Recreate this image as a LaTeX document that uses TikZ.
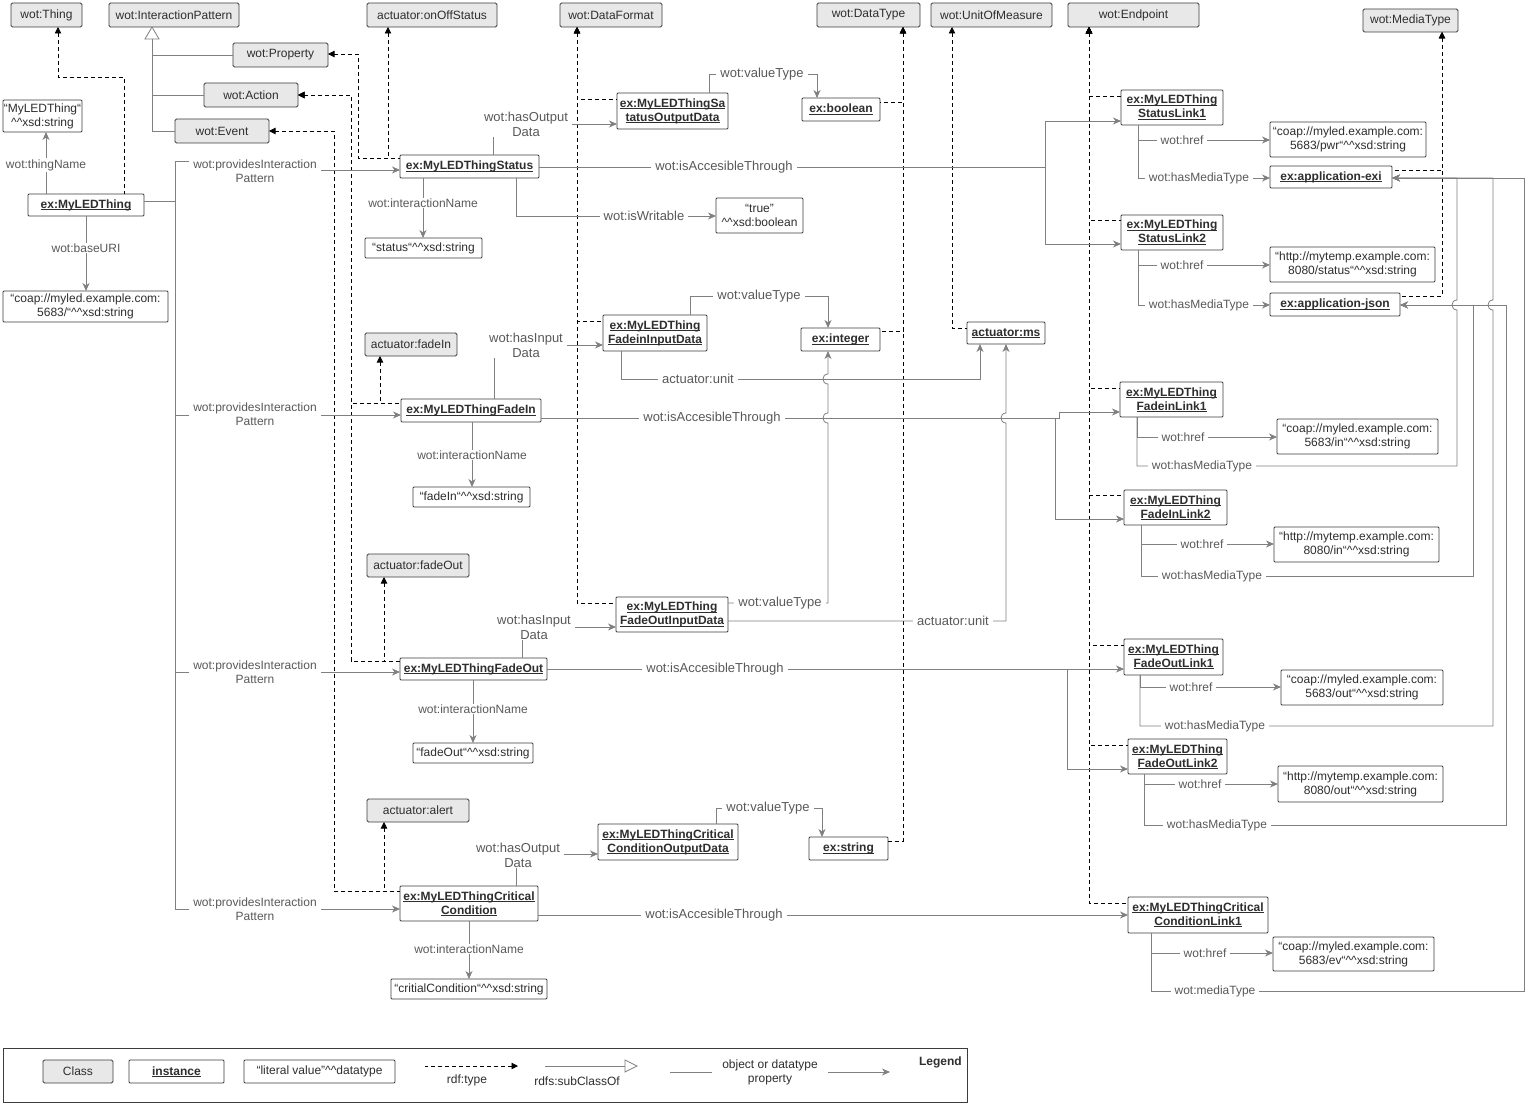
\documentclass[tikz,border=0pt]{standalone}
\usepackage{fontspec}
\setmainfont{Liberation Sans}
\usetikzlibrary{arrows.meta}

\definecolor{clsfill}{HTML}{E8E8E8}
\definecolor{boxline}{HTML}{3C3C3C}
\definecolor{edgecol}{HTML}{808080}
\definecolor{labcol}{HTML}{595959}
\definecolor{txtcol}{HTML}{2E2E2E}

% typed-literal marker and underlined instance names
\newcommand{\hats}{\textasciicircum\textasciicircum}
\newcommand{\undl}[1]{\setbox0=\hbox{#1}\rlap{\rule[-1.7pt]{\wd0}{0.75pt}}\box0}
% box from left/top/right/bottom (pixel-like units, y downwards)
\newcommand{\mkbox}[7]{\node[#1, minimum width={(#5)-(#3)}, minimum height={(#6)-(#4)}] (#2) at ({((#3)+(#5))/2},{((#4)+(#6))/2}) {#7};}

\tikzset{
  base/.style={rectangle, inner sep=0pt, outer sep=0pt, align=center,
    font=\fontsize{12}{14}\selectfont, text=txtcol, line width=0.8pt},
  cls/.style={base, draw=boxline, fill=clsfill, rounded corners=1.5pt},
  inst/.style={base, draw=boxline, fill=white, rounded corners=1pt,
    font=\fontsize{12}{14}\selectfont\bfseries},
  lit/.style={base, draw=boxline, fill=white, rounded corners=1pt},
  frame/.style={base, draw=boxline, fill=none},
  pr/.style={draw=edgecol, line width=0.8pt, -{Stealth[length=8pt,width=7pt,inset=2.5pt]}},
  pl/.style={draw=edgecol, line width=0.8pt},
  rt/.style={draw=black, line width=0.8pt, dash pattern=on 4pt off 3pt,
    {Triangle[length=6.5pt,width=6.5pt]}-},
  lb/.style={fill=white, inner xsep=4pt, inner ysep=1pt, align=center, text=labcol,
    font=\fontsize{12}{14}\selectfont},
  lbb/.style={lb, font=\fontsize{13}{15}\selectfont},
  lgt/.style={align=center, text=txtcol, inner sep=0pt, font=\fontsize{12}{14}\selectfont},
}

\begin{document}
\begin{tikzpicture}[x=1pt,y=-1pt]
\useasboundingbox (0,0) rectangle (1526,1105);
\fill[white] (0,0) rectangle (1526,1105);

% ---------------- classes ----------------
\mkbox{cls}{thing}{11}{3}{82}{27}{wot:Thing}
\mkbox{cls}{ipat}{109}{3}{239}{27}{wot:InteractionPattern}
\mkbox{cls}{prop}{233}{43}{328}{67}{wot:Property}
\mkbox{cls}{action}{204}{83}{298}{107}{wot:Action}
\mkbox{cls}{event}{175}{119}{269}{143}{wot:Event}
\mkbox{cls}{onoff}{367}{3}{497}{27}{actuator:onOffStatus}
\mkbox{cls}{dformat}{560}{3}{662}{27}{wot:DataFormat}
\mkbox{cls}{dtype}{817}{3}{920}{27}{wot:DataType}
\mkbox{cls}{uom}{931}{3}{1052}{27}{wot:UnitOfMeasure}
\mkbox{cls}{endpoint}{1068}{3}{1199}{27}{wot:Endpoint}
\mkbox{cls}{mtype}{1363}{9}{1458}{32}{wot:MediaType}
\mkbox{cls}{fadeincls}{365}{333}{457}{356}{actuator:fadeIn}
\mkbox{cls}{fadeoutcls}{367}{554}{469}{577}{actuator:fadeOut}
\mkbox{cls}{alert}{367}{799}{469}{822}{actuator:alert}

% ---------------- instances ----------------
\mkbox{inst}{thingi}{28}{194}{144}{216}{\undl{ex:MyLEDThing}}
\mkbox{inst}{status}{400}{155}{539}{178}{\undl{ex:MyLEDThingStatus}}
\mkbox{inst}{sodata}{617}{93}{728}{129}{\undl{ex:MyLEDThingSa}\\\undl{tatusOutputData}}
\mkbox{inst}{bool}{802}{98}{880}{121}{\undl{ex:boolean}}
\mkbox{inst}{fadein}{401}{399}{541}{422}{\undl{ex:MyLEDThingFadeIn}}
\mkbox{inst}{fidata}{603}{315}{707}{351}{\undl{ex:MyLEDThing}\\\undl{FadeinInputData}}
\mkbox{inst}{integer}{801}{328}{880}{351}{\undl{ex:integer}}
\mkbox{inst}{ms}{967}{322}{1045}{344}{\undl{actuator:ms}}
\mkbox{inst}{fadeout}{400}{658}{547}{680}{\undl{ex:MyLEDThingFadeOut}}
\mkbox{inst}{fodata}{616}{597}{728}{632}{\undl{ex:MyLEDThing}\\\undl{FadeOutInputData}}
\mkbox{inst}{crit}{400}{886}{538}{921}{\undl{ex:MyLEDThingCritical}\\\undl{Condition}}
\mkbox{inst}{codata}{598}{824}{738}{860}{\undl{ex:MyLEDThingCritical}\\\undl{ConditionOutputData}}
\mkbox{inst}{str}{809}{837}{888}{860}{\undl{ex:string}}
\mkbox{inst}{sl1}{1121}{90}{1223}{125}{\undl{ex:MyLEDThing}\\\undl{StatusLink1}}
\mkbox{inst}{sl2}{1121}{215}{1223}{250}{\undl{ex:MyLEDThing}\\\undl{StatusLink2}}
\mkbox{inst}{exi}{1270}{166}{1392}{188}{\undl{ex:application-exi}}
\mkbox{inst}{json}{1270}{293}{1400}{316}{\undl{ex:application-json}}
\mkbox{inst}{fl1}{1120}{382}{1223}{417}{\undl{ex:MyLEDThing}\\\undl{FadeinLink1}}
\mkbox{inst}{fl2}{1124}{490}{1227}{525}{\undl{ex:MyLEDThing}\\\undl{FadeInLink2}}
\mkbox{inst}{ol1}{1124}{639}{1223}{675}{\undl{ex:MyLEDThing}\\\undl{FadeOutLink1}}
\mkbox{inst}{ol2}{1128}{739}{1227}{774}{\undl{ex:MyLEDThing}\\\undl{FadeOutLink2}}
\mkbox{inst}{cl1}{1128}{897}{1268}{933}{\undl{ex:MyLEDThingCritical}\\\undl{ConditionLink1}}

% ---------------- literals ----------------
\mkbox{lit}{namelit}{3}{100}{82}{132}{“MyLEDThing“\\\hats xsd:string}
\mkbox{lit}{urilit}{3}{291}{168}{322}{“coap://myled.example.com:\\5683/“\hats xsd:string}
\mkbox{lit}{statuslit}{365}{238}{482}{258}{“status“\hats xsd:string}
\mkbox{lit}{truelit}{716}{198}{803}{233}{“true”\\\hats xsd:boolean}
\mkbox{lit}{fadeinlit}{413}{487}{530}{507}{“fadeIn“\hats xsd:string}
\mkbox{lit}{fadeoutlit}{413}{743}{533}{763}{“fadeOut“\hats xsd:string}
\mkbox{lit}{critlit}{391}{979}{547}{999}{“critialCondition“\hats xsd:string}
\mkbox{lit}{pwrlit}{1270}{122}{1426}{157}{“coap://myled.example.com:\\5683/pwr“\hats xsd:string}
\mkbox{lit}{statuslitb}{1270}{247}{1435}{282}{“http://mytemp.example.com:\\8080/status“\hats xsd:string}
\mkbox{lit}{inlit}{1277}{419}{1438}{454}{“coap://myled.example.com:\\5683/in“\hats xsd:string}
\mkbox{lit}{inlitb}{1274}{527}{1439}{562}{“http://mytemp.example.com:\\8080/in“\hats xsd:string}
\mkbox{lit}{outlit}{1281}{670}{1443}{705}{“coap://myled.example.com:\\5683/out“\hats xsd:string}
\mkbox{lit}{outlitb}{1278}{766}{1443}{802}{“http://mytemp.example.com:\\8080/out“\hats xsd:string}
\mkbox{lit}{evlit}{1273}{937}{1434}{971}{“coap://myled.example.com:\\5683/ev“\hats xsd:string}

% ---------------- subclass tree ----------------
\draw[pl, fill=white] (ipat.south -| 152,0) -- (145,39) -- (159,39) -- cycle;
\draw[pl] (152,39) -- (152,131) -- (event.west |- 0,131);
\draw[pl] (152,55) -- (prop.west |- 0,55);
\draw[pl] (152,95) -- (action.west |- 0,95);

% ---------------- rdf:type links ----------------
\draw[rt] (thing.south -| 58,0) -- (58,77) -- (124,77) -- (thingi.north -| 124,0);
\draw[rt] (prop.east |- 0,54) -- (358,54) -- (358,158) -- (status.west |- 0,158);
\coordinate (jst) at (388,158);
\draw[rt] (onoff.south -| 388,0) -- (jst);
\draw[rt] (action.east |- 0,95) -- (351,95) -- (351,403) -- (fadein.west |- 0,403);
\coordinate (jfi) at (380,403);
\draw[rt] (fadeincls.south -| 380,0) -- (jfi);
\draw[rt] (action.east |- 0,95) -- (351,95) -- (351,661) -- (fadeout.west |- 0,661);
\coordinate (jfo) at (384,661);
\draw[rt] (fadeoutcls.south -| 384,0) -- (jfo);
\draw[rt] (event.east |- 0,131) -- (334,131) -- (334,891) -- (crit.west |- 0,891);
\coordinate (jcr) at (384,891);
\draw[rt] (alert.south -| 384,0) -- (jcr);
\draw[rt] (dformat.south -| 577,0) -- (577,99) -- (sodata.west |- 0,99);
\draw[rt] (dformat.south -| 577,0) -- (577,321) -- (fidata.west |- 0,321);
\draw[rt] (dformat.south -| 577,0) -- (577,603) -- (fodata.west |- 0,603);
\draw[rt] (dtype.south -| 903,0) -- (903,102) -- (bool.east |- 0,102);
\draw[rt] (dtype.south -| 903,0) -- (903,331) -- (integer.east |- 0,331);
\draw[rt] (dtype.south -| 903,0) -- (903,841) -- (str.east |- 0,841);
\draw[rt] (uom.south -| 952,0) -- (952,328) -- (ms.west |- 0,328);
\draw[rt] (endpoint.south -| 1089,0) -- (1089,96) -- (sl1.west |- 0,96);
\draw[rt] (endpoint.south -| 1089,0) -- (1089,220) -- (sl2.west |- 0,220);
\draw[rt] (endpoint.south -| 1089,0) -- (1089,388) -- (fl1.west |- 0,388);
\draw[rt] (endpoint.south -| 1089,0) -- (1089,495) -- (fl2.west |- 0,495);
\draw[rt] (endpoint.south -| 1089,0) -- (1089,645) -- (ol1.west |- 0,645);
\draw[rt] (endpoint.south -| 1089,0) -- (1089,745) -- (ol2.west |- 0,745);
\draw[rt] (endpoint.south -| 1089,0) -- (1089,903) -- (cl1.west |- 0,903);
\draw[rt] (mtype.south -| 1442,0) -- (1442,170) -- (exi.east |- 0,170);
\draw[rt] (mtype.south -| 1442,0) -- (1442,296) -- (json.east |- 0,296);

% ---------------- thing properties ----------------
\draw[pr] (thingi.north -| 46,0) -- (namelit.south -| 46,0);
\draw[pr] (thingi.south -| 86,0) -- (urilit.north -| 86,0);
\draw[pr] (thingi.east |- 0,201) -- (175,201) -- (175,161) -- (255,161) -- (255,170) -- (status.west |- 0,170);
\draw[pr] (thingi.east |- 0,201) -- (175,201) -- (175,415) -- (fadein.west |- 0,415);
\draw[pr] (thingi.east |- 0,201) -- (175,201) -- (175,672) -- (fadeout.west |- 0,672);
\draw[pr] (thingi.east |- 0,201) -- (175,201) -- (175,909) -- (crit.west |- 0,909);

% ---------------- status property ----------------
\draw[pr] (status.south -| 423,0) -- (statuslit.north -| 423,0);
\draw[pr] (status.north -| 493,0) -- (493,124) -- (sodata.west |- 0,124);
\draw[pr] (status.south -| 516,0) -- (516,216) -- (truelit.west |- 0,216);
\draw[pr] (status.east |- 0,167) -- (1045,167) -- (1045,121) -- (sl1.west |- 0,121);
\draw[pr] (status.east |- 0,167) -- (1045,167) -- (1045,244) -- (sl2.west |- 0,244);
\draw[pr] (sodata.north -| 709,0) -- (709,74) -- (817,74) -- (bool.north -| 817,0);
\draw[pr] (sl1.south -| 1138,0) -- (1138,140) -- (pwrlit.west |- 0,140);
\draw[pr] (sl1.south -| 1138,0) -- (1138,178) -- (exi.west |- 0,178);
\draw[pr] (sl2.south -| 1138,0) -- (1138,265) -- (statuslitb.west |- 0,265);
\draw[pr] (sl2.south -| 1138,0) -- (1138,305) -- (json.west |- 0,305);

% ---------------- fadeIn action ----------------
\draw[pr] (fadein.south -| 472,0) -- (fadeinlit.north -| 472,0);
\draw[pr] (fadein.north -| 494,0) -- (494,345) -- (fidata.west |- 0,345);
\draw[pr] (fidata.north -| 690,0) -- (690,296) -- (828,296) -- (integer.north -| 828,0);
\draw[pr] (fidata.south -| 621,0) -- (621,379) -- (980,379) -- (ms.south -| 980,0);
\draw[pr] (fadein.east |- 0,418) -- (1059,418) -- (1059,412) -- (fl1.west |- 0,412);
\draw[pr] (fadein.east |- 0,418) -- (1055,418) -- (1055,519) -- (fl2.west |- 0,519);
\draw[pr] (fl1.south -| 1137,0) -- (1137,437) -- (inlit.west |- 0,437);
\draw[pr] (fl1.south -| 1137,0) -- (1137,466) -- (1457,466) -- (1457,310)
  .. controls (1450.3,310) and (1450.3,300) .. (1457,300) -- (1457,178) -- (exi.east |- 0,178);
\draw[pr] (fl2.south -| 1141,0) -- (1141,544) -- (inlitb.west |- 0,544);
\draw[pr] (fl2.south -| 1141,0) -- (1141,576) -- (1473,576) -- (1473,305) -- (json.east |- 0,305);

% ---------------- fadeOut action ----------------
\draw[pr] (fadeout.south -| 473,0) -- (fadeoutlit.north -| 473,0);
\draw[pr] (fadeout.north -| 522,0) -- (522,627) -- (fodata.west |- 0,627);
\draw[pr] (fodata.east |- 0,603) -- (828,603) -- (828,423)
  .. controls (821.3,423) and (821.3,413) .. (828,413) -- (828,384)
  .. controls (821.3,384) and (821.3,374) .. (828,374) -- (integer.south -| 828,0);
\draw[pr] (fodata.east |- 0,621) -- (1006,621) -- (1006,423)
  .. controls (999.3,423) and (999.3,413) .. (1006,413) -- (ms.south -| 1006,0);
\draw[pr] (fadeout.east |- 0,669) -- (ol1.west |- 0,669);
\draw[pr] (fadeout.east |- 0,669) -- (1067,669) -- (1067,769) -- (ol2.west |- 0,769);
\draw[pr] (ol1.south -| 1140,0) -- (1140,687) -- (outlit.west |- 0,687);
\draw[pr] (ol1.south -| 1140,0) -- (1140,726) -- (1493,726) -- (1493,310)
  .. controls (1486.3,310) and (1486.3,300) .. (1493,300) -- (1493,178) -- (exi.east |- 0,178);
\draw[pr] (ol2.south -| 1144,0) -- (1144,784) -- (outlitb.west |- 0,784);
\draw[pr] (ol2.south -| 1144,0) -- (1144,825) -- (1506,825) -- (1506,305) -- (json.east |- 0,305);

% ---------------- critical condition event ----------------
\draw[pr] (crit.south -| 469,0) -- (critlit.north -| 469,0);
\draw[pr] (crit.north -| 516,0) -- (516,854) -- (codata.west |- 0,854);
\draw[pr] (codata.north -| 716,0) -- (716,808) -- (822,808) -- (str.north -| 822,0);
\draw[pr] (crit.east |- 0,915) -- (cl1.west |- 0,915);
\draw[pr] (cl1.south -| 1151,0) -- (1151,953) -- (evlit.west |- 0,953);
\draw[pr] (cl1.south -| 1151,0) -- (1151,991) -- (1524,991) -- (1524,178) -- (exi.east |- 0,178);

% ---------------- edge labels ----------------
\node[lb] at (46,165) {wot:thingName};
\node[lb] at (86,248) {wot:baseURI};
\node[lb] at (255,171) {wot:providesInteraction\\Pattern};
\node[lb] at (255,414) {wot:providesInteraction\\Pattern};
\node[lb] at (255,672) {wot:providesInteraction\\Pattern};
\node[lb] at (255,909) {wot:providesInteraction\\Pattern};
\node[lb] at (423,203) {wot:interactionName};
\node[lb] at (472,455) {wot:interactionName};
\node[lb] at (473,709) {wot:interactionName};
\node[lb] at (469,949) {wot:interactionName};
\node[lbb] at (526,124) {wot:hasOutput\\Data};
\node[lbb] at (526,345) {wot:hasInput\\Data};
\node[lbb] at (534,627) {wot:hasInput\\Data};
\node[lbb] at (518,855) {wot:hasOutput\\Data};
\node[lbb] at (644,216) {wot:isWritable};
\node[lbb] at (724,167) {wot:isAccesibleThrough};
\node[lbb] at (712,418) {wot:isAccesibleThrough};
\node[lbb] at (715,669) {wot:isAccesibleThrough};
\node[lbb] at (714,915) {wot:isAccesibleThrough};
\node[lbb] at (762,74) {wot:valueType};
\node[lbb] at (759,296) {wot:valueType};
\node[lbb] at (780,603) {wot:valueType};
\node[lbb] at (768,808) {wot:valueType};
\node[lbb] at (698,379) {actuator:unit};
\node[lbb] at (953,621) {actuator:unit};
\node[lb] at (1182,140) {wot:href};
\node[lb] at (1182,265) {wot:href};
\node[lb] at (1183,437) {wot:href};
\node[lb] at (1202,544) {wot:href};
\node[lb] at (1191,687) {wot:href};
\node[lb] at (1200,784) {wot:href};
\node[lb] at (1205,953) {wot:href};
\node[lb] at (1199,178) {wot:hasMediaType};
\node[lb] at (1199,305) {wot:hasMediaType};
\node[lb] at (1202,466) {wot:hasMediaType};
\node[lb] at (1212,576) {wot:hasMediaType};
\node[lb] at (1215,726) {wot:hasMediaType};
\node[lb] at (1217,825) {wot:hasMediaType};
\node[lb] at (1215,991) {wot:mediaType};

% ---------------- legend ----------------
\mkbox{frame}{legend}{3}{1048}{967}{1102}{}
\mkbox{cls}{lgcls}{43}{1060}{113}{1083}{Class}
\mkbox{inst}{lginst}{129}{1060}{224}{1083}{\undl{instance}}
\mkbox{lit}{lglit}{244}{1060}{395}{1083}{“literal value”\hats datatype}
\coordinate (rta) at (425,1066);
\coordinate (rtb) at (518,1066);
\draw[rt] (rtb) -- (rta);
\node[lgt] (lgrt) at (467,1080) {rdf:type};
\coordinate (sca) at (545,1066);
\coordinate (scb) at (625,1066);
\draw[pl] (sca) -- (scb);
\draw[pl, fill=white] (625,1060) -- (637,1066) -- (625,1072) -- cycle;
\node[lgt] (lgsc) at (577,1081) {rdfs:subClassOf};
\node[lgt] (lgprop) at (770,1072) {object or datatype\\property};
\coordinate (pa) at (670,1072);
\coordinate (pb) at (890,1072);
\draw[pl] (pa) -- (712,1072);
\draw[pr] (828,1072) -- (pb);
\node[lgt, font=\fontsize{12}{14}\selectfont\bfseries, anchor=east] (lgtitle) at (962,1062) {Legend};

\end{tikzpicture}
\end{document}
